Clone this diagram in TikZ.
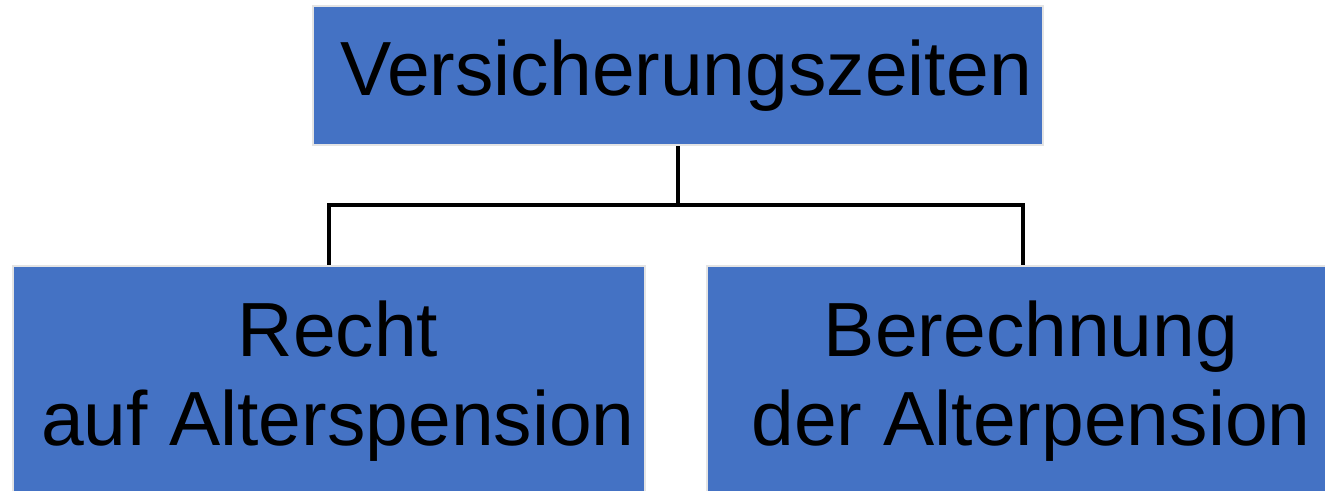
\documentclass[tikz,border=0pt]{standalone}
\usepackage{fontspec}
\setmainfont{Liberation Sans}
\definecolor{boxblue}{HTML}{4472C4}
\definecolor{boxrim}{HTML}{E4E4E4}
\tikzset{
  orgbox/.style={draw=boxrim, line width=1.6pt, fill=boxblue, inner sep=0pt,
    text=black, align=center,
    font=\fontsize{57.6}{66.8}\selectfont},
  link/.style={line width=2.3pt, draw=black}
}
\begin{document}
\begin{tikzpicture}[x=0.75pt, y=-0.75pt]
  \useasboundingbox (0,0) rectangle (1325,490);
  \clip (0,0) rectangle (1325,490);
  % top level
  \node[orgbox, minimum width=547.5pt, minimum height=104.25pt] (top) at (678,75.5)
    {\hspace*{12pt}Versicherungszeiten};
  % second level
  \node[orgbox, minimum width=474pt, minimum height=172.5pt] (left) at (329,381)
    {\hspace*{13.5pt}Recht\\\hspace*{13.5pt}auf Alterspension};
  \node[orgbox, minimum width=474pt, minimum height=172.5pt] (right) at (1023,381)
    {\hspace*{12pt}Berechnung\\\hspace*{12pt}der Alterpension};
  % connectors
  \coordinate (fork) at (678,205);
  \draw[link] (top.south) -- (fork);
  \draw[link] (left.north) |- (fork) -| (right.north);
\end{tikzpicture}
\end{document}
